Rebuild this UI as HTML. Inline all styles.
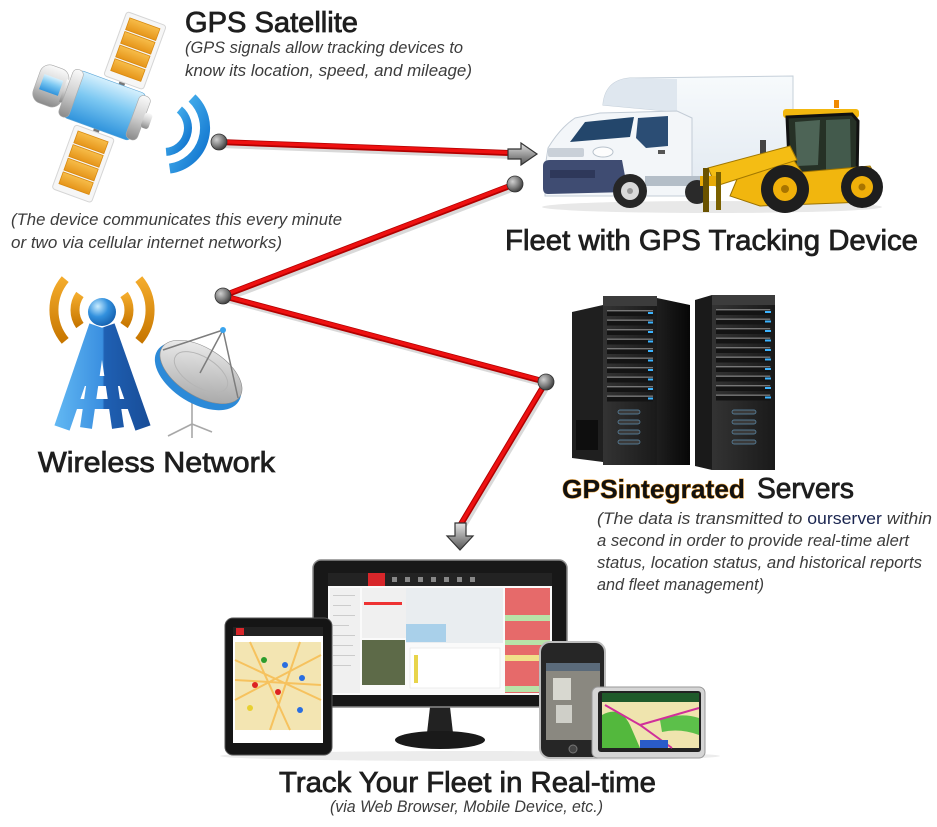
<!DOCTYPE html>
<html><head><meta charset="utf-8"><style>
html,body{margin:0;padding:0;background:#fff;}
svg{display:block;}
text{font-family:"Liberation Sans",sans-serif;}
.h{font-size:29px;fill:#1e1e1e;stroke:#1e1e1e;stroke-width:0.8;}
.i{font-size:17px;font-style:italic;fill:#3c3c3c;}
</style></head><body>
<svg width="937" height="827" viewBox="0 0 937 827" xmlns="http://www.w3.org/2000/svg">
<defs>
<linearGradient id="gb" x1="0" y1="0" x2="0" y2="1"><stop offset="0" stop-color="#d6f0fd"/><stop offset=".45" stop-color="#7cc8f2"/><stop offset="1" stop-color="#2f93dc"/></linearGradient>
<linearGradient id="gg" x1="0" y1="0" x2="0" y2="1"><stop offset="0" stop-color="#fafafa"/><stop offset=".5" stop-color="#cfcfcf"/><stop offset="1" stop-color="#8a8a8a"/></linearGradient>
<linearGradient id="go" x1="0" y1="0" x2="0" y2="1"><stop offset="0" stop-color="#f7bd4a"/><stop offset="1" stop-color="#e6951a"/></linearGradient>
<radialGradient id="gd" cx=".35" cy=".35" r=".7"><stop offset="0" stop-color="#d0d0d0"/><stop offset=".6" stop-color="#7a7a7a"/><stop offset="1" stop-color="#3a3a3a"/></radialGradient>
<linearGradient id="ga" x1="0" y1="0" x2="0" y2="1"><stop offset="0" stop-color="#e4e4e4"/><stop offset="1" stop-color="#555"/></linearGradient>
<linearGradient id="gsig" x1="0" y1="0" x2="1" y2="1"><stop offset="0" stop-color="#56c2f6"/><stop offset="1" stop-color="#0c6fcc"/></linearGradient>
<linearGradient id="gt" gradientUnits="userSpaceOnUse" x1="55" y1="0" x2="150" y2="0"><stop offset="0" stop-color="#62b8f3"/><stop offset=".5" stop-color="#3a8fe0"/><stop offset=".52" stop-color="#1f60b3"/><stop offset="1" stop-color="#184d98"/></linearGradient>
<radialGradient id="gball" cx=".35" cy=".3" r=".75"><stop offset="0" stop-color="#c8ecff"/><stop offset=".5" stop-color="#3391de"/><stop offset="1" stop-color="#145fae"/></radialGradient>
<linearGradient id="gor" x1="0" y1="0" x2="0" y2="1"><stop offset="0" stop-color="#f3ab2c"/><stop offset="1" stop-color="#c87700"/></linearGradient>
<linearGradient id="gdish" x1="0" y1="0" x2="1" y2="1"><stop offset="0" stop-color="#f7f7f7"/><stop offset="1" stop-color="#9d9d9d"/></linearGradient>
<linearGradient id="gsrv" x1="0" y1="0" x2="1" y2="0"><stop offset="0" stop-color="#333"/><stop offset="1" stop-color="#1a1a1a"/></linearGradient>
<linearGradient id="gside" x1="0" y1="0" x2="1" y2="0"><stop offset="0" stop-color="#1e1e1e"/><stop offset="1" stop-color="#070707"/></linearGradient>
<linearGradient id="gbox" x1="0" y1="0" x2="0" y2="1"><stop offset="0" stop-color="#f7fafc"/><stop offset="1" stop-color="#e4ebf2"/></linearGradient>
<g id="panel">
<rect x="-21" y="-34" width="42" height="68" rx="3" fill="#f6f6f6" stroke="#d5d5d5"/>
<rect x="-16" y="-29" width="32" height="12.5" fill="url(#go)" stroke="#d88a10" stroke-width=".8"/>
<rect x="-16" y="-14.5" width="32" height="12.5" fill="url(#go)" stroke="#d88a10" stroke-width=".8"/>
<rect x="-16" y="0" width="32" height="12.5" fill="url(#go)" stroke="#d88a10" stroke-width=".8"/>
<rect x="-16" y="14.5" width="32" height="12.5" fill="url(#go)" stroke="#d88a10" stroke-width=".8"/>
</g>
<g id="slot">
<rect x="0" y="0" width="46" height="6" fill="#141414"/>
<rect x="0" y="0" width="46" height="1.4" fill="#777"/>
</g>
</defs>
<rect width="937" height="827" fill="#fff"/>

<!-- Satellite -->
<g transform="translate(95,102) rotate(20)">
<rect x="16" y="-32" width="6" height="10" fill="#777"/>
<rect x="8" y="22" width="6" height="12" fill="#777"/>
<use href="#panel" transform="translate(20,-62)"/>
<use href="#panel" transform="translate(10,62)"/>
<rect x="-62" y="-20" width="30" height="40" rx="10" fill="url(#gg)" stroke="#aaa" stroke-width=".6"/>
<rect x="-57" y="-9" width="20" height="16" fill="url(#gb)"/>
<rect x="-34" y="-12" width="10" height="24" fill="url(#gg)"/>
<rect x="-26" y="-25" width="72" height="50" rx="5" fill="url(#gb)" stroke="#5fa8d8" stroke-width=".6"/>
<rect x="-31" y="-25" width="11" height="50" rx="5" fill="url(#gg)" stroke="#aaa" stroke-width=".6"/>
<rect x="40" y="-23" width="12" height="46" rx="5" fill="url(#gg)" stroke="#aaa" stroke-width=".6"/>
<rect x="51" y="-8" width="8" height="16" rx="3" fill="url(#gg)"/>
</g>
<!-- signal arcs -->
<path d="M192 98 A41 41 0 0 1 169.7 168.6" fill="none" stroke="url(#gsig)" stroke-width="10"/>
<path d="M179.4 109.6 A24 24 0 0 1 166.1 151.9" fill="none" stroke="url(#gsig)" stroke-width="8"/>

<!-- Truck -->
<ellipse cx="712" cy="207" rx="170" ry="6" fill="#e8e8e8"/>
<path d="M603 105 Q605 80 630 78 L793 76 L793 172 L677 178 L677 112 Z" fill="url(#gbox)" stroke="#c6d0da"/>
<path d="M603 105 Q605 80 630 78 L677 79 L677 112 Z" fill="#dfe7ef"/>
<path d="M545 168 L548 148 Q560 128 575 118 L600 113 L677 111 L692 118 L692 196 L545 196 Z" fill="#f3f6f9" stroke="#c3ccd6"/>
<polygon points="570,142 585,122 634,117 630,137" fill="#23466b"/>
<polygon points="638,118 668,116 668,146 646,148 636,138" fill="#2b4d74"/>
<rect x="548" y="148" width="36" height="9" rx="2" fill="#c9d0d8"/>
<ellipse cx="603" cy="152" rx="10" ry="5" fill="#fdfdfd" stroke="#b8c2cc"/>
<path d="M543 166 Q543 160 550 160 L622 160 L628 192 L548 194 Q543 194 543 188 Z" fill="#3f4c72"/>
<rect x="550" y="170" width="45" height="8" fill="#2e385a"/>
<rect x="645" y="176" width="60" height="10" fill="#b4bec8"/>
<rect x="658" y="150" width="7" height="4" fill="#555"/>
<rect x="760" y="140" width="6" height="14" fill="#444"/>
<circle cx="630" cy="191" r="17" fill="#262626"/>
<circle cx="630" cy="191" r="9" fill="#d9d9d9"/>
<circle cx="630" cy="191" r="3" fill="#999"/>
<circle cx="697" cy="192" r="12" fill="#2a2a2a"/>

<!-- Loader -->
<rect x="783" y="109" width="76" height="9" rx="3" fill="#f2b70f"/>
<rect x="834" y="100" width="5" height="8" fill="#f08a00"/>
<polygon points="787,117 852,114 858,121 857,182 790,183" fill="#263126" stroke="#111" stroke-width="3"/>
<polygon points="795,122 820,120 818,165 797,166" fill="#4d6456"/>
<polygon points="826,120 850,119 851,170 826,170" fill="#435a4c"/>
<polygon points="740,172 790,155 802,172 870,166 882,186 866,202 760,206 730,196" fill="#f1b60e" stroke="#9c7200"/>
<polygon points="708,168 790,146 797,160 716,186" fill="#f4bd14" stroke="#a27800"/>
<rect x="700" y="176" width="20" height="10" fill="#e8aa08"/>
<rect x="703" y="168" width="6" height="44" fill="#6a5200"/>
<rect x="716" y="172" width="5" height="38" fill="#7a6000"/>
<circle cx="785" cy="189" r="24" fill="#1e1e1e"/>
<circle cx="785" cy="189" r="12" fill="#f0b00a"/>
<circle cx="785" cy="189" r="4" fill="#a87400"/>
<circle cx="862" cy="187" r="21" fill="#1e1e1e"/>
<circle cx="862" cy="187" r="11" fill="#f0b00a"/>
<circle cx="862" cy="187" r="3.5" fill="#a87400"/>

<!-- Wireless tower -->
<g fill="none" stroke="url(#gor)" stroke-width="9">
<path d="M65.2 279.1 A48 48 0 0 0 65.2 340.9"/>
<path d="M79.9 294.5 A27 27 0 0 0 79.9 325.5"/>
<path d="M138.8 279.1 A48 48 0 0 1 138.8 340.9"/>
<path d="M124.1 294.5 A27 27 0 0 1 124.1 325.5"/>
</g>
<g stroke="url(#gt)" stroke-linecap="butt" fill="none">
<path d="M97 326 L62 428" stroke-width="16"/>
<path d="M107 326 L143 428" stroke-width="16"/>
<path d="M100 332 L86 428" stroke-width="12"/>
<path d="M104 332 L118 428" stroke-width="12"/>
<path d="M80 381 L124 381" stroke-width="10"/>
<path d="M72 404 L132 404" stroke-width="10"/>
</g>
<circle cx="102" cy="312" r="14" fill="url(#gball)"/>
<!-- dish -->
<g stroke="#a8a8a8" stroke-width="1.6" fill="none">
<path d="M192 398 L192 424 M192 424 L168 436 M192 424 L192 438 M192 424 L212 432"/>
</g>
<ellipse cx="198" cy="376" rx="48" ry="27" transform="rotate(32 198 376)" fill="#2c8ad8"/>
<ellipse cx="201" cy="372" rx="46" ry="24" transform="rotate(32 201 372)" fill="url(#gdish)" stroke="#8a8a8a" stroke-width=".6"/>
<ellipse cx="201" cy="372" rx="30" ry="15" transform="rotate(32 201 372)" fill="none" stroke="#b5b5b5"/>
<g stroke="#7d7d7d" stroke-width="1.5" fill="none">
<path d="M163 350 L223 330 L238 398 M223 330 L200 373"/>
</g>
<circle cx="223" cy="330" r="3" fill="#3aa4ee"/>

<!-- Servers -->
<polygon points="572,312 603,305 603,462 572,458" fill="#1f1f1f"/>
<g fill="#0e0e0e"><rect x="576" y="420" width="22" height="30"/></g>
<polygon points="657,298 690,305 690,465 657,465" fill="url(#gside)"/>
<rect x="603" y="296" width="54" height="169" fill="url(#gsrv)"/>
<rect x="603" y="296" width="54" height="10" fill="#3c3c3c"/>
<g transform="translate(607,310)">
<use href="#slot" y="0"/><use href="#slot" y="9.5"/><use href="#slot" y="19"/><use href="#slot" y="28.5"/><use href="#slot" y="38"/><use href="#slot" y="47.5"/><use href="#slot" y="57"/><use href="#slot" y="66.5"/><use href="#slot" y="76"/><use href="#slot" y="85.5"/>
</g>
<g fill="#3cb4ff"><rect x="648" y="312" width="5" height="2"/><rect x="648" y="321.5" width="5" height="2"/><rect x="648" y="331" width="5" height="2"/><rect x="648" y="340.5" width="5" height="2"/><rect x="648" y="350" width="5" height="2"/><rect x="648" y="359.5" width="5" height="2"/><rect x="648" y="369" width="5" height="2"/><rect x="648" y="378.5" width="5" height="2"/><rect x="648" y="388" width="5" height="2"/><rect x="648" y="397.5" width="5" height="2"/></g>
<g fill="#3a3a3a" stroke="#5f8fb0" stroke-width=".7"><rect x="618" y="410" width="22" height="4" rx="2"/><rect x="618" y="420" width="22" height="4" rx="2"/><rect x="618" y="430" width="22" height="4" rx="2"/><rect x="618" y="440" width="22" height="4" rx="2"/></g>
<polygon points="695,300 712,295 712,470 695,466" fill="#1a1a1a"/>
<rect x="712" y="295" width="63" height="175" fill="url(#gsrv)"/>
<rect x="712" y="295" width="63" height="10" fill="#3c3c3c"/>
<g transform="translate(716,309) scale(1.18,1)">
<use href="#slot" y="0"/><use href="#slot" y="9.5"/><use href="#slot" y="19"/><use href="#slot" y="28.5"/><use href="#slot" y="38"/><use href="#slot" y="47.5"/><use href="#slot" y="57"/><use href="#slot" y="66.5"/><use href="#slot" y="76"/><use href="#slot" y="85.5"/>
</g>
<g fill="#3cb4ff"><rect x="765" y="311" width="6" height="2"/><rect x="765" y="320.5" width="6" height="2"/><rect x="765" y="330" width="6" height="2"/><rect x="765" y="339.5" width="6" height="2"/><rect x="765" y="349" width="6" height="2"/><rect x="765" y="358.5" width="6" height="2"/><rect x="765" y="368" width="6" height="2"/><rect x="765" y="377.5" width="6" height="2"/><rect x="765" y="387" width="6" height="2"/><rect x="765" y="396.5" width="6" height="2"/></g>
<g fill="#3a3a3a" stroke="#5f8fb0" stroke-width=".7"><rect x="732" y="410" width="24" height="4" rx="2"/><rect x="732" y="420" width="24" height="4" rx="2"/><rect x="732" y="430" width="24" height="4" rx="2"/><rect x="732" y="440" width="24" height="4" rx="2"/></g>

<!-- Connectors -->
<g fill="none" stroke-linecap="round" stroke-linejoin="round">
<path d="M221 145 L511 156 M517 187 L225 299 L548 385 L463 527" stroke="#cfcfcf" stroke-width="6" opacity=".8"/>
<path d="M219 142 L509 153 M515 184 L223 296 L546 382 L461 524" stroke="#b30000" stroke-width="6"/>
<path d="M219 141.5 L509 152.5 M515 183.5 L223 295.5 L546 381.5 L461 523.5" stroke="#ee1111" stroke-width="3.5"/>
</g>
<path d="M508 149 L521 149 L521 143 L537 154 L521 165 L521 159 L508 159 Z" fill="url(#ga)" stroke="#333" stroke-width="1.2"/>
<path d="M455 523 L466 523 L466 536 L473 536 L460 550 L447 536 L455 536 Z" fill="url(#ga)" stroke="#333" stroke-width="1.2"/>
<g fill="url(#gd)" stroke="#333" stroke-width=".8">
<circle cx="219" cy="142" r="8"/><circle cx="515" cy="184" r="8"/><circle cx="223" cy="296" r="8"/><circle cx="546" cy="382" r="8"/>
</g>

<!-- Devices -->
<ellipse cx="470" cy="756" rx="250" ry="5" fill="#ececec"/>
<!-- monitor -->
<polygon points="430,707 450,707 453,733 427,733" fill="#222"/>
<ellipse cx="440" cy="740" rx="45" ry="9" fill="#1a1a1a"/>
<rect x="313" y="560" width="254" height="147" rx="8" fill="#181818" stroke="#8a8a8a" stroke-width="1.5"/>
<rect x="328" y="573" width="224" height="122" fill="#fafafa"/>
<rect x="328" y="573" width="224" height="13" fill="#232323"/>
<rect x="368" y="573" width="17" height="13" fill="#d8262a"/>
<g fill="#888"><rect x="392" y="577" width="5" height="5"/><rect x="405" y="577" width="5" height="5"/><rect x="418" y="577" width="5" height="5"/><rect x="431" y="577" width="5" height="5"/><rect x="444" y="577" width="5" height="5"/><rect x="457" y="577" width="5" height="5"/><rect x="470" y="577" width="5" height="5"/></g>
<rect x="330" y="588" width="30" height="105" fill="#f0f0f0"/>
<g fill="#ccc"><rect x="333" y="595" width="22" height="1"/><rect x="333" y="605" width="18" height="1"/><rect x="333" y="615" width="22" height="1"/><rect x="333" y="625" width="16" height="1"/><rect x="333" y="635" width="22" height="1"/><rect x="333" y="645" width="20" height="1"/><rect x="333" y="655" width="22" height="1"/><rect x="333" y="665" width="18" height="1"/></g>
<rect x="362" y="588" width="44" height="50" fill="#f0f0f0"/>
<rect x="364" y="602" width="38" height="3" fill="#e33"/>
<rect x="406" y="588" width="97" height="55" fill="#e9edf0"/>
<rect x="406" y="624" width="40" height="18" fill="#a9d0ea"/>
<rect x="362" y="640" width="43" height="45" fill="#5d6a48"/>
<rect x="410" y="648" width="90" height="40" fill="#fff" stroke="#ddd" stroke-width=".5"/>
<rect x="414" y="655" width="4" height="28" fill="#e8d44a"/>
<rect x="505" y="588" width="45" height="105" fill="#e66a6a"/>
<rect x="505" y="615" width="45" height="6" fill="#b8e3a8"/>
<rect x="505" y="640" width="45" height="5" fill="#b8e3a8"/>
<rect x="505" y="655" width="45" height="6" fill="#f0e08a"/>
<rect x="505" y="686" width="45" height="6" fill="#b8e3a8"/>
<!-- tablet -->
<rect x="225" y="618" width="107" height="137" rx="8" fill="#151515" stroke="#555"/>
<rect x="233" y="627" width="90" height="116" fill="#fff"/>
<rect x="233" y="627" width="90" height="9" fill="#222"/>
<rect x="236" y="628" width="8" height="7" fill="#d8262a"/>
<rect x="235" y="642" width="86" height="88" fill="#f3e5b2"/>
<g stroke="#f6c25e" stroke-width="2" fill="none"><path d="M235 660 L321 700 M250 642 L290 730 M235 700 L321 655 M300 642 L270 730 M235 680 L321 685"/></g>
<g><circle cx="264" cy="660" r="3" fill="#2c9c2c"/><circle cx="285" cy="665" r="3" fill="#2a6ee0"/><circle cx="255" cy="685" r="3" fill="#d22"/><circle cx="278" cy="692" r="3" fill="#d22"/><circle cx="302" cy="678" r="3" fill="#2a6ee0"/><circle cx="300" cy="710" r="3" fill="#2a6ee0"/><circle cx="250" cy="708" r="3" fill="#e8d030"/></g>
<!-- phone -->
<rect x="540" y="642" width="65" height="116" rx="10" fill="#262626" stroke="#bdbdbd" stroke-width="2"/>
<rect x="546" y="663" width="54" height="77" fill="#8a8880"/>
<rect x="546" y="663" width="54" height="8" fill="#5a6a7a"/>
<rect x="553" y="678" width="18" height="22" fill="#d8d8d0"/>
<rect x="556" y="705" width="16" height="18" fill="#cfcfc8"/>
<circle cx="573" cy="749" r="4" fill="#444" stroke="#777"/>
<!-- gps nav -->
<rect x="592" y="687" width="113" height="71" rx="6" fill="#d5d5d5" stroke="#999"/>
<rect x="598" y="691" width="103" height="61" rx="3" fill="#222"/>
<rect x="602" y="693" width="97" height="55" fill="#efe4ae"/>
<rect x="602" y="693" width="97" height="9" fill="#1f5a2a"/>
<path d="M602 715 Q620 705 630 725 L640 748 L602 748 Z" fill="#53b83d"/>
<path d="M660 720 Q680 712 699 718 L699 735 Q680 728 662 732 Z" fill="#5cc04a"/>
<g stroke="#d0309a" stroke-width="2" fill="none"><path d="M605 705 L640 725 L672 748 M640 725 L699 708"/></g>
<rect x="640" y="740" width="28" height="8" fill="#2a5cc8"/>

<!-- Text -->
<text class="h" x="185" y="32" textLength="173" lengthAdjust="spacingAndGlyphs">GPS Satellite</text>
<text class="i" x="185" y="53" textLength="278" lengthAdjust="spacingAndGlyphs">(GPS signals allow tracking devices to</text>
<text class="i" x="185" y="76" textLength="287" lengthAdjust="spacingAndGlyphs">know its location, speed, and mileage)</text>
<text class="i" x="11" y="225" textLength="331" lengthAdjust="spacingAndGlyphs">(The device communicates this every minute</text>
<text class="i" x="11" y="248" textLength="271" lengthAdjust="spacingAndGlyphs">or two via cellular internet networks)</text>
<text class="h" x="505" y="250" textLength="413" lengthAdjust="spacingAndGlyphs">Fleet with GPS Tracking Device</text>
<text class="h" x="38" y="472" textLength="237" lengthAdjust="spacingAndGlyphs">Wireless Network</text>
<text x="562" y="498" font-size="26" font-weight="bold" fill="#111" stroke="#e89a2a" stroke-width="1" paint-order="stroke" textLength="183" lengthAdjust="spacingAndGlyphs">GPSintegrated</text>
<text class="h" x="757" y="498" textLength="97" lengthAdjust="spacingAndGlyphs">Servers</text>
<text class="i" x="597" y="524" textLength="335" lengthAdjust="spacingAndGlyphs">(The data is transmitted to <tspan font-style="normal" fill="#1a2550">ourserver</tspan> within</text>
<text class="i" x="597" y="546" textLength="312" lengthAdjust="spacingAndGlyphs">a second in order to provide real-time alert</text>
<text class="i" x="597" y="568" textLength="325" lengthAdjust="spacingAndGlyphs">status, location status, and historical reports</text>
<text class="i" x="597" y="590" textLength="167" lengthAdjust="spacingAndGlyphs">and fleet management)</text>
<text class="h" x="279" y="792" textLength="377" lengthAdjust="spacingAndGlyphs">Track Your Fleet in Real-time</text>
<text class="i" x="330" y="812" font-size="16" textLength="273" lengthAdjust="spacingAndGlyphs">(via Web Browser, Mobile Device, etc.)</text>
</svg>
</body></html>
